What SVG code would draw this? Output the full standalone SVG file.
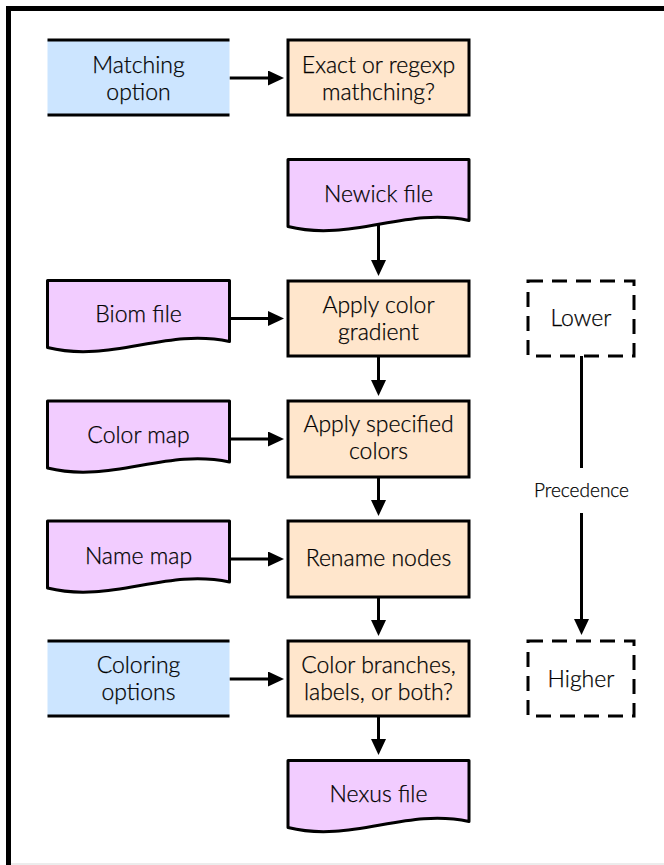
<svg xmlns="http://www.w3.org/2000/svg" width="664" height="865" viewBox="0 0 664 865">
<defs>
<style>
text{font-family:Lato,"Open Sans","DejaVu Sans",sans-serif;font-size:23px;font-weight:300;fill:#000;stroke:#000;stroke-width:0.25;text-anchor:middle}
.proc{fill:#ffe6cc;stroke:#000;stroke-width:3}
.doc{fill:#f2ccff;stroke:#000;stroke-width:3;stroke-linejoin:round}
.opt{fill:#cce5ff}
.bar{stroke:#000;stroke-width:3}
.dash{fill:none;stroke:#000;stroke-width:3;stroke-dasharray:15 9}
.conn{stroke:#000;stroke-width:3;fill:none}
.small{font-size:19px}
</style>
<marker id="ah" viewBox="0 0 16 15" refX="3" refY="7.5" markerWidth="16" markerHeight="15" markerUnits="userSpaceOnUse" orient="auto">
<path d="M0,0 L16,7.5 L0,15 Z" fill="#000"/>
</marker>
<path id="docL" d="M0,0 H182 V61 C118.3,47 63.7,83 0,67 Z"/>
<path id="docM" d="M0,0 H181 V61 C117.7,47 63.4,83 0,67 Z"/>
</defs>
<rect width="664" height="865" fill="#fff"/>
<rect x="8.5" y="8.5" width="720" height="900" fill="none" stroke="#000" stroke-width="5"/>
<line x1="11" y1="864" x2="664" y2="864" stroke="#e6e6e6" stroke-width="1.5"/>

<g id="connectors">
<line class="conn" x1="229.5" y1="78" x2="271" y2="78" marker-end="url(#ah)"/>
<line class="conn" x1="229.5" y1="318.5" x2="271" y2="318.5" marker-end="url(#ah)"/>
<line class="conn" x1="229.5" y1="439" x2="271" y2="439" marker-end="url(#ah)"/>
<line class="conn" x1="229.5" y1="559" x2="271" y2="559" marker-end="url(#ah)"/>
<line class="conn" x1="229.5" y1="679" x2="271" y2="679" marker-end="url(#ah)"/>
<line class="conn" x1="378.5" y1="224" x2="378.5" y2="263" marker-end="url(#ah)"/>
<line class="conn" x1="378.5" y1="356" x2="378.5" y2="383" marker-end="url(#ah)"/>
<line class="conn" x1="378.5" y1="477" x2="378.5" y2="503" marker-end="url(#ah)"/>
<line class="conn" x1="378.5" y1="597" x2="378.5" y2="623" marker-end="url(#ah)"/>
<line class="conn" x1="378.5" y1="716" x2="378.5" y2="742" marker-end="url(#ah)"/>
<line class="conn" x1="581.5" y1="356" x2="581.5" y2="468" stroke-width="2.7"/>
<line class="conn" x1="581.5" y1="513" x2="581.5" y2="622" stroke-width="2.7" marker-end="url(#ah)"/>
<text class="small" x="581.5" y="497">Precedence</text>
</g>

<g id="matching-option">
<rect class="opt" x="47.5" y="40" width="182" height="75"/>
<line class="bar" x1="47.5" y1="40" x2="229.5" y2="40"/>
<line class="bar" x1="47.5" y1="115" x2="229.5" y2="115"/>
<text x="138.5" y="73">Matching</text>
<text x="138.5" y="100">option</text>
</g>

<g id="exact-regexp">
<rect class="proc" x="288" y="40" width="181" height="75"/>
<text x="378.5" y="72.5">Exact or regexp</text>
<text x="378.5" y="99.5">mathching?</text>
</g>

<g id="newick-file">
<use href="#docM" class="doc" x="288" y="159.5"/>
<text x="378.5" y="202">Newick file</text>
</g>

<g id="biom-file">
<use href="#docL" class="doc" x="47.5" y="280.5"/>
<text x="138.5" y="322">Biom file</text>
</g>

<g id="apply-gradient">
<rect class="proc" x="288" y="281" width="181" height="75"/>
<text x="378.5" y="313">Apply color</text>
<text x="378.5" y="340">gradient</text>
</g>

<g id="color-map">
<use href="#docL" class="doc" x="47.5" y="401"/>
<text x="138.5" y="443">Color map</text>
</g>

<g id="apply-specified">
<rect class="proc" x="288" y="401" width="181" height="76"/>
<text x="378.5" y="432">Apply specified</text>
<text x="378.5" y="459">colors</text>
</g>

<g id="name-map">
<use href="#docL" class="doc" x="47.5" y="521"/>
<text x="138.5" y="563.5">Name map</text>
</g>

<g id="rename-nodes">
<rect class="proc" x="288" y="521" width="181" height="76"/>
<text x="378.5" y="566">Rename nodes</text>
</g>

<g id="coloring-options">
<rect class="opt" x="47.5" y="641" width="182" height="75"/>
<line class="bar" x1="47.5" y1="641" x2="229.5" y2="641"/>
<line class="bar" x1="47.5" y1="716" x2="229.5" y2="716"/>
<text x="138.5" y="673">Coloring</text>
<text x="138.5" y="700">options</text>
</g>

<g id="color-branches">
<rect class="proc" x="288" y="641" width="181" height="75"/>
<text x="378.5" y="673">Color branches,</text>
<text x="378.5" y="700">labels, or both?</text>
</g>

<g id="nexus-file">
<use href="#docM" class="doc" x="288" y="760.5"/>
<text x="378.5" y="801.5">Nexus file</text>
</g>

<g id="lower">
<rect class="dash" x="528" y="281" width="106" height="75"/>
<text x="581" y="326">Lower</text>
</g>

<g id="higher">
<rect class="dash" x="528" y="641" width="106" height="75"/>
<text x="581" y="686.5">Higher</text>
</g>
</svg>
